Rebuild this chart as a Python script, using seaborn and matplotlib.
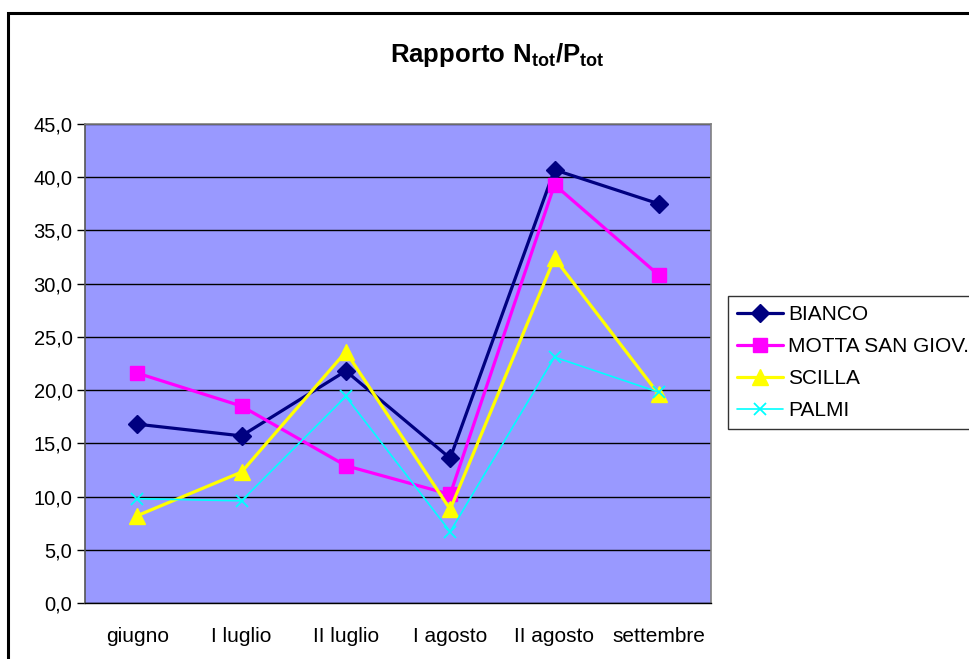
import pandas as pd
import numpy as np
import matplotlib.pyplot as plt
import matplotlib.ticker as mticker
from matplotlib.patches import Rectangle
import seaborn as sns

sns.set_style('white')
plt.rcParams['font.family'] = ['Liberation Sans', 'DejaVu Sans']
plt.rcParams['mathtext.fontset'] = 'custom'
plt.rcParams['mathtext.rm'] = 'Liberation Sans'
plt.rcParams['mathtext.bf'] = 'Liberation Sans:bold'
plt.rcParams['text.color'] = 'black'
plt.rcParams['xtick.color'] = 'black'
plt.rcParams['ytick.color'] = 'black'

# Data
periods = ['giugno', 'I luglio', 'II luglio', 'I agosto', 'II agosto', 'settembre']
bianco = [16.8, 15.7, 21.8, 13.6, 40.7, 37.5]
motta = [21.6, 18.5, 12.9, 10.2, 39.3, 30.8]
scilla = [8.2, 12.3, 23.6, 8.8, 32.4, 19.6]
palmi = [9.8, 9.6, 19.4, 6.7, 23.1, 19.8]

series_names = ['BIANCO', 'MOTTA SAN GIOV.', 'SCILLA', 'PALMI']
series_vals = [bianco, motta, scilla, palmi]

rows = []
for name, vals in zip(series_names, series_vals):
    for i, v in enumerate(vals):
        rows.append({'pos': i, 'period': periods[i], 'site': name, 'value': v})
df = pd.DataFrame(rows)

styles = {
    'BIANCO': dict(color='#000080', marker='D', markersize=9, linewidth=2.3),
    'MOTTA SAN GIOV.': dict(color='#FF00FF', marker='s', markersize=10, linewidth=2.3),
    'SCILLA': dict(color='#FFFF00', marker='^', markersize=12, linewidth=2.3),
    'PALMI': dict(color='#00FFFF', marker='x', markersize=9, linewidth=1.2, markeredgewidth=1.3),
}

fig = plt.figure(figsize=(9.7, 6.59), dpi=100)
ax = fig.add_axes([85 / 970, 1 - 603 / 659, (711 - 85) / 970, (603 - 124) / 659])
ax.set_facecolor('#9999FF')

for name in series_names:
    st = styles[name]
    sns.lineplot(data=df[df['site'] == name], x='pos', y='value', ax=ax,
                 color=st['color'], marker=st['marker'], markersize=st['markersize'],
                 linewidth=st['linewidth'], markeredgecolor=st['color'],
                 markeredgewidth=st.get('markeredgewidth', 1), label=name, zorder=3)

ax.set_xlim(-0.5, len(periods) - 0.5)
ax.set_ylim(0, 45)
ax.set_xlabel('')
ax.set_ylabel('')

ax.set_yticks(np.arange(0, 46, 5))
ax.yaxis.set_major_formatter(mticker.FuncFormatter(lambda v, p: f'{v:.1f}'.replace('.', ',')))
ax.yaxis.grid(True, color='black', linewidth=1)
ax.set_axisbelow(True)

ax.set_xticks(range(len(periods)))
ax.set_xticklabels(periods)
ax.set_xticks(np.arange(-0.5, len(periods)), minor=True)
ax.tick_params(axis='x', which='major', length=0, pad=17, labelsize=15)
ax.tick_params(axis='x', which='minor', length=6, width=1, color='black', direction='out')
ax.tick_params(axis='y', length=6, width=1, color='black', direction='out', pad=3, labelsize=14.5, left=True)

for s in ['top', 'right']:
    ax.spines[s].set_color('#808080')
    ax.spines[s].set_linewidth(1.2)
ax.spines['left'].set_color('#555555')
ax.spines['left'].set_linewidth(1.2)
ax.spines['bottom'].set_color('black')
ax.spines['bottom'].set_linewidth(1)

# Legend outside the plot, on the right
handles, labels = ax.get_legend_handles_labels()
if ax.legend_:
    ax.legend_.remove()
leg = fig.legend(handles, labels, loc='upper left',
                 bbox_to_anchor=(728 / 970, 1 - 296 / 659), borderaxespad=0,
                 frameon=True, fancybox=False, edgecolor='black', fontsize=15,
                 handlelength=2.2, handletextpad=0.25, labelspacing=0.62,
                 borderpad=0.45)
leg.get_frame().set_linewidth(1)

fig.text(497 / 970, 1 - 55 / 659, r'$\mathbf{Rapporto\ N_{tot}/P_{tot}}$',
         ha='center', va='center', fontsize=18.5, color='black')

# outer chart border
fig.patches.append(Rectangle((8 / 970, -0.1), 1.2, 1 - 13 / 659 + 0.1,
                             transform=fig.transFigure, fill=False,
                             edgecolor='black', linewidth=2.2))

fig.savefig('out.png', dpi=100)
